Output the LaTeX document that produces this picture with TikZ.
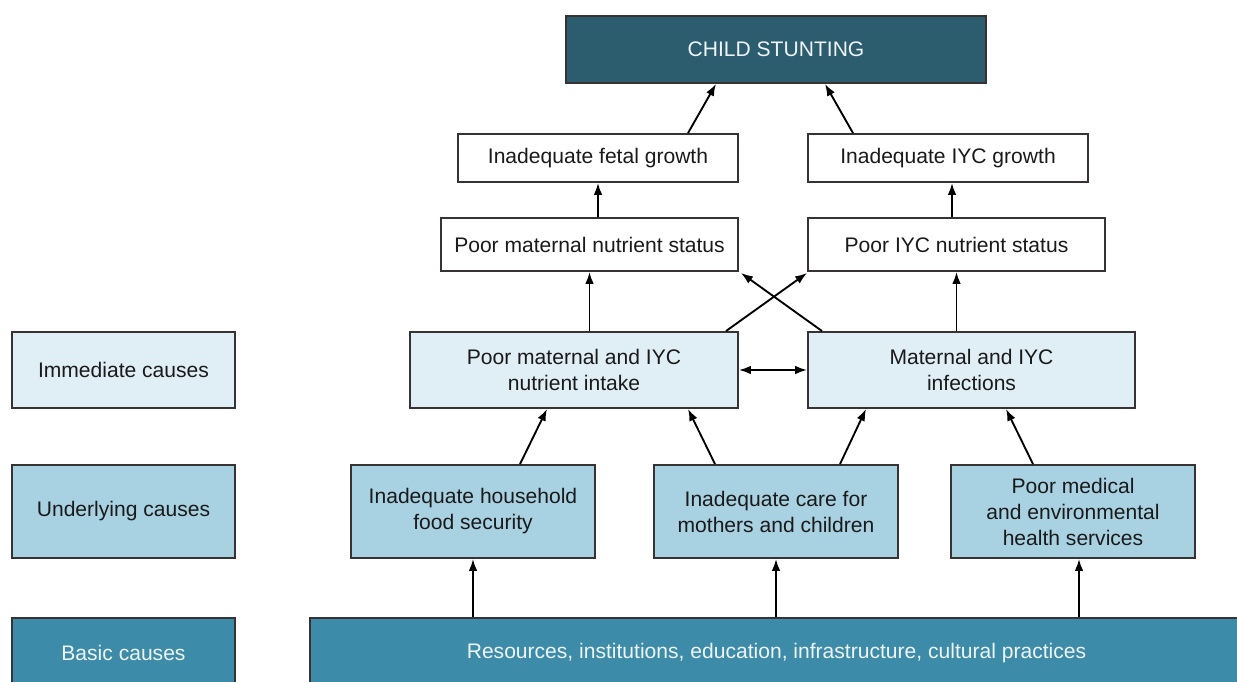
\documentclass[tikz,border=0pt]{standalone}
\usepackage{fontspec}
\setmainfont{Liberation Sans}
\usetikzlibrary{arrows.meta,calc}
\definecolor{darkteal}{HTML}{2B5D6F}
\definecolor{midteal}{HTML}{3C8BA8}
\definecolor{lightblue}{HTML}{E0EEF6}
\definecolor{paleblue}{HTML}{A8D2E2}
\definecolor{edgecol}{HTML}{383232}
\definecolor{whitetext}{HTML}{EEF4F7}
\definecolor{boxtext}{HTML}{1A1A1A}
\begin{document}
\begin{tikzpicture}[x=0.75pt,y=-0.75pt,
  box/.style={draw=edgecol,line width=1.4pt,rectangle,inner sep=0pt,align=center,
    font=\fontsize{15.8}{19.5}\selectfont,text=boxtext},
  whitebox/.style={box,fill=white},
  immbox/.style={box,fill=lightblue},
  undbox/.style={box,fill=paleblue},
  basbox/.style={box,fill=midteal,text=whitetext},
  topbox/.style={box,fill=darkteal,text=whitetext},
  arr/.style={line width=1.4pt,draw=black,-{Latex[length=9pt,width=6.5pt]}},
  darr/.style={line width=1.4pt,draw=black,{Latex[length=9pt,width=6.5pt]}-{Latex[length=9pt,width=6.5pt]}}]
\useasboundingbox (0,0) rectangle (1237,681);
\node[topbox,minimum width=420*0.75pt,minimum height=67*0.75pt] (child) at (776,49.5) {CHILD STUNTING};
\node[whitebox,minimum width=280*0.75pt,minimum height=48*0.75pt] (fetal) at (598,158) {Inadequate fetal growth};
\node[whitebox,minimum width=280*0.75pt,minimum height=48*0.75pt] (iycg) at (948,158) {Inadequate IYC growth};
\node[whitebox,minimum width=297*0.75pt,minimum height=53*0.75pt] (mstat) at (589.5,244.5) {Poor maternal nutrient status};
\node[whitebox,minimum width=297*0.75pt,minimum height=53*0.75pt] (istat) at (956.5,244.5) {Poor IYC nutrient status};
\node[immbox,minimum width=328*0.75pt,minimum height=76*0.75pt] (intake) at (574,370) {Poor maternal and IYC\\nutrient intake};
\node[immbox,minimum width=327*0.75pt,minimum height=76*0.75pt] (infect) at (971.5,370) {Maternal and IYC\\infections};
\node[immbox,minimum width=223*0.75pt,minimum height=76*0.75pt] (imm) at (123.5,370) {Immediate causes};
\node[undbox,minimum width=223*0.75pt,minimum height=93*0.75pt] (und) at (123.5,511.5) {Underlying causes};
\node[undbox,minimum width=244*0.75pt,minimum height=93*0.75pt] (food) at (473,511.5) {Inadequate household\\food security};
\node[undbox,minimum width=244*0.75pt,minimum height=93*0.75pt] (care) at (776,511.5) {Inadequate care for\\mothers and children};
\node[undbox,minimum width=244*0.75pt,minimum height=93*0.75pt] (med) at (1073,511.5) {Poor medical\\and environmental\\health services};
\node[basbox,minimum width=223*0.75pt,minimum height=70*0.75pt] (basic) at (123.5,653) {Basic causes};
\node[basbox,minimum width=933*0.75pt,minimum height=70*0.75pt] (res) at (776.5,653) {Resources, institutions, education, infrastructure, cultural practices};
% arrows
\draw[arr] ($(fetal.north)+(90,0)$) -- ($(child.south)+(-60,0)$);
\draw[arr] ($(iycg.north)+(-95,0)$) -- ($(child.south)+(49,0)$);
\draw[arr] (mstat.north -| fetal.south) -- (fetal.south);
\draw[arr] ($(istat.north)+(-4.5,0)$) -- ($(iycg.south)+(4,0)$);
\draw[arr] (intake.north -| mstat.south) -- (mstat.south);
\draw[arr] (infect.north -| istat.south) -- (istat.south);
\draw[arr] ($(intake.north)+(152,0)$) -- ($(istat.south west)+(0,1)$);
\draw[arr] ($(infect.north)+(-149.5,0)$) -- ($(mstat.south east)+(2,1)$);
\draw[darr] (intake.east) -- (infect.west);
\draw[arr] ($(food.north)+(47,0)$) -- ($(intake.south)+(-27,0)$);
\draw[arr] ($(care.north)+(-61,0)$) -- ($(intake.south)+(114,0)$);
\draw[arr] ($(care.north)+(64,0)$) -- ($(infect.south)+(-105.5,0)$);
\draw[arr] ($(med.north)+(-40,0)$) -- ($(infect.south)+(34.5,0)$);
\draw[arr] (res.north -| food.south) -- (food.south);
\draw[arr] (res.north -| care.south) -- (care.south);
\draw[arr] ($(res.north -| med.south)+(6,0)$) -- ($(med.south)+(6,0)$);
\end{tikzpicture}
\end{document}
